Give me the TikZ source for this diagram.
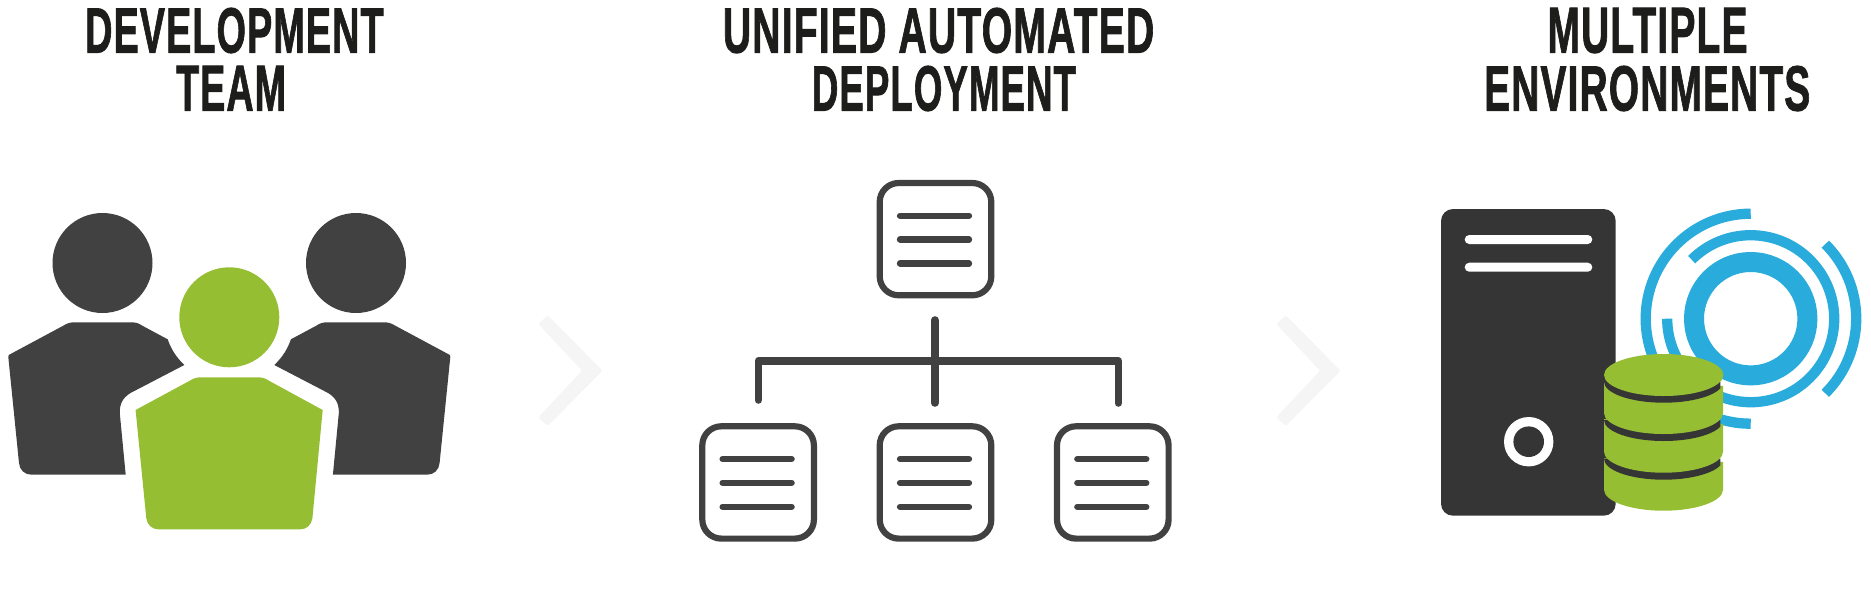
\documentclass[tikz,border=0pt]{standalone}
\usepackage{fontspec}
\usepackage{graphicx}
\setmainfont[FakeBold=1.6,LetterSpace=3]{Liberation Sans Bold}
\definecolor{ink}{HTML}{1D1D1B}
\definecolor{dk}{HTML}{414141}
\definecolor{srv}{HTML}{353535}
\definecolor{grn}{HTML}{96BE32}
\definecolor{blu}{HTML}{29ABDC}
\definecolor{chev}{HTML}{F5F5F5}
\newcommand{\ttl}[2]{\resizebox{#1pt}{44.6pt}{#2}}
\tikzset{
  x=1pt,y=-1pt,
  title/.style={inner sep=0pt,text=ink,anchor=north west},
  chevron/.style={draw=chev,fill=chev,line width=0.5pt,rounded corners=2pt},
  box/.style={draw=dk,line width=6.2pt},
  rule/.style={draw=dk,line width=6.3pt,line cap=round},
  link/.style={draw=dk,line width=7.6pt,line cap=round,line join=round},
  ring/.style={draw=blu,line width=10.3pt}
}
\newcommand{\docbox}[3]{% name, left, top
  \draw[box] (#2+19,#3) -- (#2+92.6,#3) arc[start angle=-90,end angle=0,radius=19]
    -- (#2+111.6,#3+93.3) arc[start angle=0,end angle=90,radius=19]
    -- (#2+19,#3+112.3) arc[start angle=90,end angle=180,radius=19]
    -- (#2,#3+19) arc[start angle=180,end angle=270,radius=19] -- cycle;
  \foreach \dy in {32.7,56.5,80.5}
    \draw[rule] (#2+20.3,#3+\dy) -- ++(69,0);
}
\newcommand{\sidebody}{%
  \fill[dk] (8.7,355) -- (63.3,325.7) .. controls (67.5,323) and (70.5,322.3) .. (75.1,322.3)
  -- (130.5,322.3) .. controls (135.5,322.3) and (138.5,323) .. (142.3,325.7)
  -- (167.7,339.3) .. controls (171,349) and (176,357) .. (184.3,365)
  -- (130.5,393) .. controls (122.5,398) and (119.5,404) .. (119.8,413.3)
  -- (125.7,474.7) -- (31.6,474.7) .. controls (24.6,474.7) and (19.6,470) .. (19,463)
  -- (8.3,357) -- cycle;
}
\begin{document}
\begin{tikzpicture}
\useasboundingbox (0,0) rectangle (1871,608);
% titles
\node[title] (t1a) at (85,7.7) {\ttl{298.4}{DEVELOPMENT}};
\node[title] (t1b) at (176,65.7) {\ttl{109.8}{TEAM}};
\node[title] (t2a) at (722.7,7.7) {\ttl{431.3}{UNIFIED AUTOMATED}};
\node[title] (t2b) at (811.7,65.7) {\ttl{264}{DEPLOYMENT}};
\node[title] (t3a) at (1547.3,7.7) {\ttl{200}{MULTIPLE}};
\node[title] (t3b) at (1484,65.7) {\ttl{326}{ENVIRONMENTS}};
% people
\fill[dk] (102.5,263) circle (50);
\fill[dk] (356,263) circle (50);
\fill[grn] (229.3,317.3) circle (50);
\sidebody
\begin{scope}[xshift=458.6pt,xscale=-1]
\sidebody
\end{scope}
\fill[grn] (135.6,410) -- (189.8,380.7) .. controls (194,378) and (197,377.3) .. (201.7,377.3)
  -- (257,377.3) .. controls (262,377.3) and (265,378) .. (268.9,380.7)
  -- (322.7,410) -- (322.4,413) -- (312.4,518.3) .. controls (311.4,525) and (306.5,529.3) .. (300.5,529.3)
  -- (158.2,529.3) .. controls (152.2,529.3) and (147.3,525) .. (146.3,518.3) -- (135.9,413) -- cycle;
% chevrons
\path[chevron] (538.6,324) -- (547.7,315.7) -- (602.2,370.7) -- (547.7,425.7) -- (538.6,417.3) -- (582.4,370.7) -- cycle;
\path[chevron] (1276.6,324) -- (1285.7,315.7) -- (1340.2,370.7) -- (1285.7,425.7) -- (1276.6,417.3) -- (1320.4,370.7) -- cycle;
% tree
\docbox{top}{879.7}{183}
\docbox{bl}{702.3}{426.3}
\docbox{bm}{879.7}{426.3}
\docbox{br}{1057}{426.3}
\coordinate (trunkT) at (934.7,320);
\coordinate (trunkB) at (934.7,403);
\draw[link] (trunkT) -- (trunkB);
\coordinate (la) at (758.3,400);
\coordinate (lb) at (758.3,360.7);
\coordinate (ra) at (1118.3,360.7);
\coordinate (rb) at (1118.3,403);
\draw[link] (la) -- (lb) -- (ra) -- (rb);
% rings
\draw[blu,line width=20pt] (1750.7,318.7) circle (56.7);
\draw[ring] (1750.7,318.7) ++(-135:83.5) arc[start angle=-135,end angle=180,radius=83.5];
\draw[ring] (1750.7,318.7) ++(-90:105) arc[start angle=-90,end angle=-270,radius=105];
\draw[ring] (1750.7,318.7) ++(-45:105.5) arc[start angle=-45,end angle=45,radius=105.5];
% server
\fill[srv,rounded corners=12pt] (1441,209) rectangle (1615.7,515.7);
\fill[white,rounded corners=4.5pt] (1464.7,235) rectangle (1592.3,244);
\fill[white,rounded corners=4.5pt] (1464.7,262.7) rectangle (1592.3,271.7);
\fill[white] (1528.7,441.7) circle (24.7);
\fill[srv] (1528.7,441.7) circle (15.3);
% database, bottom layer first
\fill[grn] (1604,458) -- (1604,489.7) arc[start angle=180,end angle=0,x radius=59.5,y radius=21] -- (1723,462) -- cycle;
\begin{scope}
  \clip (1600,440) rectangle (1720.3,500);
  \fill[srv] (1604,458.7) arc[start angle=180,end angle=0,x radius=59.7,y radius=21] -- cycle;
\end{scope}
\fill[grn] (1604,419) -- (1604,451.7) arc[start angle=180,end angle=0,x radius=59.5,y radius=21] -- (1723,424) -- cycle;
\begin{scope}
  \clip (1600,400) rectangle (1720.3,462);
  \fill[srv] (1604,420) arc[start angle=180,end angle=0,x radius=59.7,y radius=21] -- cycle;
\end{scope}
\fill[grn] (1604,382) -- (1604,413) arc[start angle=180,end angle=0,x radius=59.5,y radius=21] -- (1723,386) -- cycle;
\begin{scope}
  \clip (1600,370) rectangle (1720.3,420);
  \fill[srv] (1604,381.7) arc[start angle=180,end angle=0,x radius=59.7,y radius=21] -- cycle;
\end{scope}
\fill[grn] (1663.7,375) ellipse [x radius=59.7,y radius=21];
\end{tikzpicture}
\end{document}
